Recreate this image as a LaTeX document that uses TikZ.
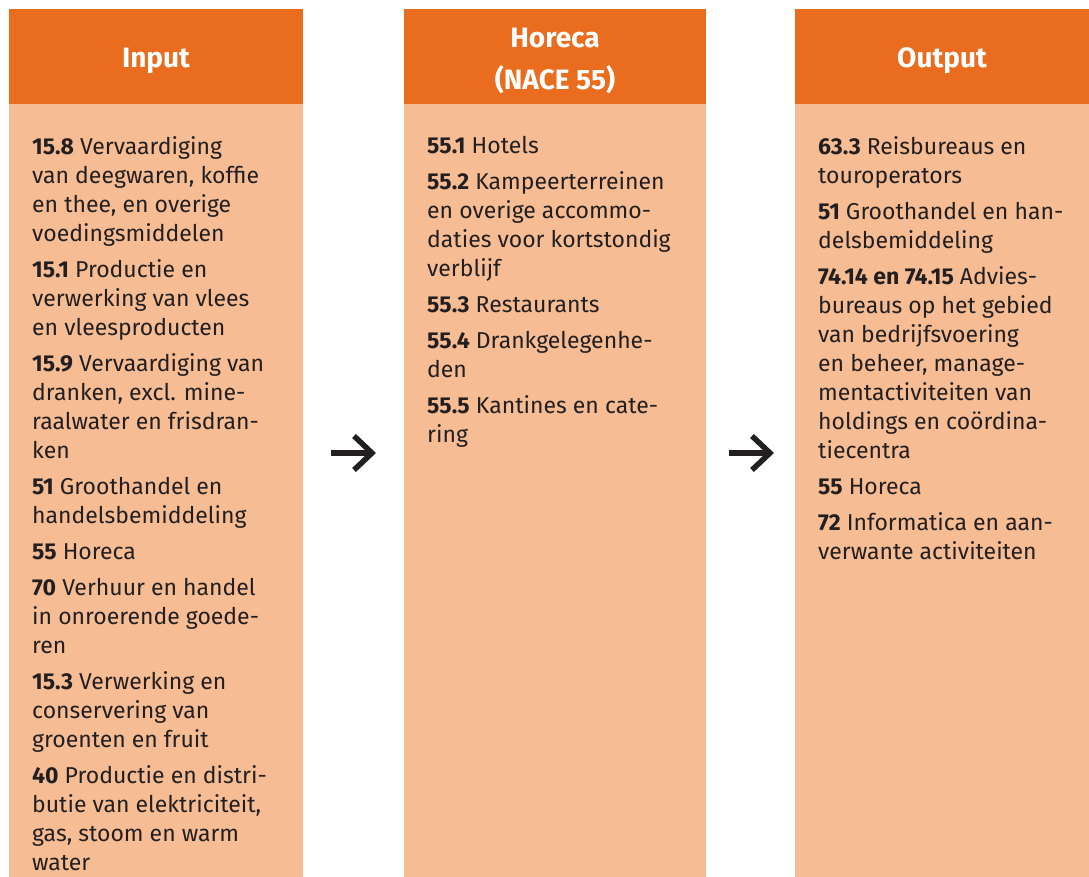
\documentclass[tikz,border=0pt]{standalone}
\usepackage{fontspec}
\setmainfont{Fira Sans}
\usetikzlibrary{arrows.meta}
\definecolor{hdrorange}{RGB}{233,108,31}
\definecolor{bodyorange}{RGB}{246,189,148}
\definecolor{ink}{RGB}{35,31,32}
\begin{document}
\begin{tikzpicture}[x=1pt,y=-1pt,
    hdr/.style={fill=hdrorange, minimum width=294pt, minimum height=95pt, inner sep=0pt},
    hdrtext/.style={text=white, font=\fontsize{28}{42}\selectfont\bfseries, inner sep=0pt, align=center},
    colbox/.style={fill=bodyorange, minimum width=294pt, minimum height=773pt,
      inner sep=0pt, anchor=north},
    entries/.style={anchor=north west, inner sep=0pt, align=left, text=ink,
      font=\fontsize{23}{29}\selectfont},
    arr/.style={draw=ink, line width=5.5pt, -{Straight Barb[length=18pt,width=34pt]}}]
      \useasboundingbox[fill=white] (0,0) rectangle (1089,877);
      \node[hdr] (inhead) at (156,56.5) {};
      \node[hdr, minimum width=302pt] (midhead) at (555,56.5) {};
      \node[hdr] (outhead) at (942,56.5) {};
      \node[hdrtext] (inttl) at (156,61) {Input};
      \node[hdrtext] (midttl) at (555,61) {Horeca\\(NACE 55)};
      \node[hdrtext] (outttl) at (942,61) {Output};
      \node[colbox] (inbody) at (inhead.south) {};
      \node[colbox, minimum width=302pt] (midbody) at (midhead.south) {};
      \node[colbox] (outbody) at (outhead.south) {};
      \node[entries] (inlist) at (32,136) {%
        \textbf{15.8} Vervaardiging\\van deegwaren, koffie\\en thee, en overige\\voedingsmiddelen\\[7pt]
        \textbf{15.1} Productie en\\verwerking van vlees\\en vleesproducten\\[7pt]
        \textbf{15.9} Vervaardiging van\\dranken, excl. mine-\\raalwater en frisdran-\\ken\\[7pt]
        \textbf{51} Groothandel en\\handelsbemiddeling\\[7pt]
        \textbf{55} Horeca\\[7pt]
        \textbf{70} Verhuur en handel\\in onroerende goede-\\ren\\[7pt]
        \textbf{15.3} Verwerking en\\conservering van\\groenten en fruit\\[7pt]
        \textbf{40} Productie en distri-\\butie van elektriciteit,\\gas, stoom en warm\\water};
      \node[entries] (midlist) at (427,136) {%
        \textbf{55.1} Hotels\\[7pt]
        \textbf{55.2} Kampeerterreinen\\en overige accommo-\\daties voor kortstondig\\verblijf\\[7pt]
        \textbf{55.3} Restaurants\\[7pt]
        \textbf{55.4} Drankgelegenhe-\\den\\[7pt]
        \textbf{55.5} Kantines en cate-\\ring};
      \node[entries] (outlist) at (818,136) {%
        \textbf{63.3} Reisbureaus en\\touroperators\\[7pt]
        \textbf{51} Groothandel en han-\\delsbemiddeling\\[7pt]
        \textbf{74.14 en 74.15} Advies-\\bureaus op het gebied\\van bedrijfsvoering\\en beheer, manage-\\mentactiviteiten van\\holdings en coördina-\\tiecentra\\[7pt]
        \textbf{55} Horeca\\[7pt]
        \textbf{72} Informatica en aan-\\verwante activiteiten};
      \coordinate (arrins) at (331,453);
      \coordinate (arrine) at (376,453);
      \coordinate (arrouts) at (729,453);
      \coordinate (arroute) at (774,453);
      \draw[arr] (arrins) -- (arrine);
      \draw[arr] (arrouts) -- (arroute);
\end{tikzpicture}
\end{document}
